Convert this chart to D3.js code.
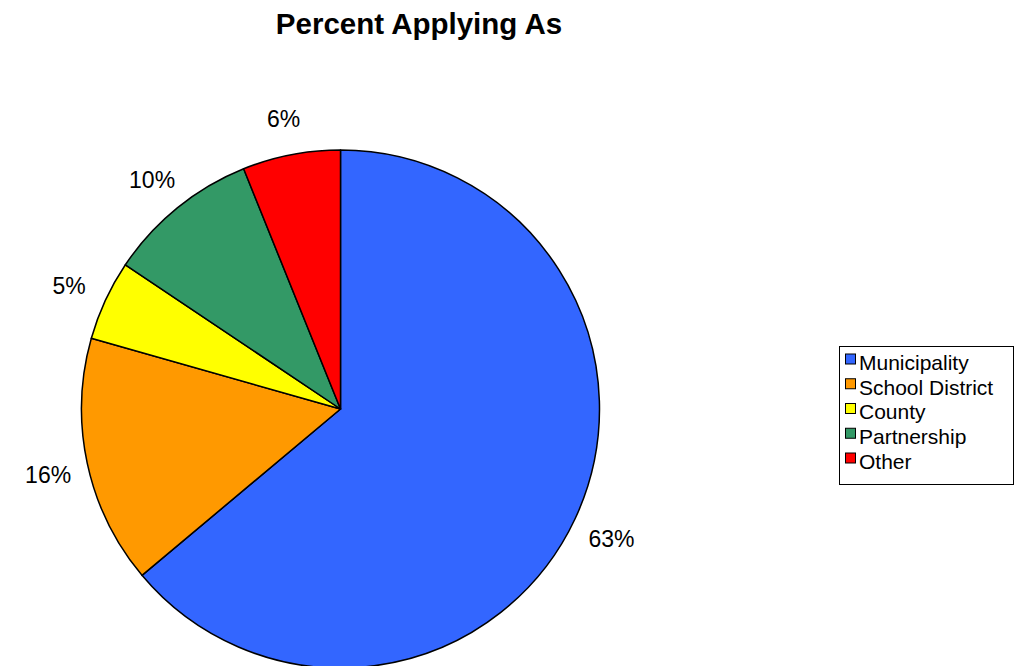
<!DOCTYPE html>
<html>
<head>
<meta charset="utf-8">
<script src="https://cdn.jsdelivr.net/npm/d3@7"></script>
<style>
  html, body { margin: 0; padding: 0; background: #fff; }
  svg { display: block; font-family: "Liberation Sans", Arial, sans-serif; }
</style>
</head>
<body>
<svg id="chart" width="1014" height="666"></svg>
<script>
const categories = ["Municipality", "School District", "County", "Partnership", "Other"];
const values = [63.9, 15.5, 5.0, 9.5, 6.1];
const labels = ["63%", "16%", "5%", "10%", "6%"];
const colors = ["#3366FF", "#FF9900", "#FFFF00", "#339966", "#FF0000"];

const svg = d3.select("#chart");
const cx = 340.5, cy = 409, R = 259, labelR = 299;

svg.append("text")
  .attr("x", 419).attr("y", 34)
  .attr("text-anchor", "middle")
  .attr("font-size", 29.5).attr("font-weight", "bold")
  .text("Percent Applying As");

const data = categories.map((c, i) => ({ cat: c, value: values[i], label: labels[i], color: colors[i] }));

const pie = d3.pie().value(d => d.value).sort(null).startAngle(0).endAngle(2 * Math.PI);
const arcs = pie(data);
const arc = d3.arc().innerRadius(0).outerRadius(R);
const labelArc = d3.arc().innerRadius(labelR).outerRadius(labelR);

const g = svg.append("g").attr("transform", `translate(${cx},${cy})`);
g.selectAll("path").data(arcs).enter().append("path")
  .attr("d", arc)
  .attr("fill", d => d.data.color)
  .attr("stroke", "#000")
  .attr("stroke-width", 1.5)
  .attr("stroke-linejoin", "round");

g.selectAll("text.lbl").data(arcs).enter().append("text")
  .attr("class", "lbl")
  .attr("transform", d => { const p = labelArc.centroid(d); return `translate(${p[0]},${p[1] + 3})`; })
  .attr("text-anchor", "middle")
  .attr("dy", "0.35em")
  .attr("font-size", 23)
  .text(d => d.data.label);

// Legend
const lg = svg.append("g").attr("transform", "translate(839,346)");
lg.append("rect").attr("x", 0.5).attr("y", 0.5).attr("width", 174).attr("height", 138)
  .attr("fill", "#fff").attr("stroke", "#000").attr("stroke-width", 1);
const items = lg.selectAll("g.item").data(data).enter().append("g")
  .attr("class", "item")
  .attr("transform", (d, i) => `translate(0,${16.5 + i * 24.75})`);
items.append("rect").attr("x", 6.5).attr("y", -8.5).attr("width", 10).attr("height", 10)
  .attr("fill", d => d.color).attr("stroke", "#000").attr("stroke-width", 1);
items.append("text").attr("x", 20).attr("y", 0).attr("dy", "0.35em")
  .attr("font-size", 21)
  .text(d => d.cat);
</script>
</body>
</html>
